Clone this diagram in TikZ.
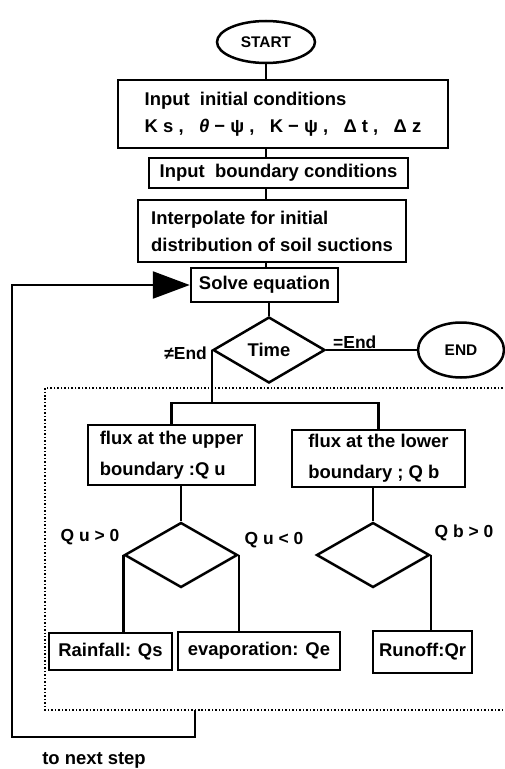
\documentclass[tikz,border=0pt]{standalone}
\usepackage{fontspec}
\setmainfont{Liberation Sans}
\usetikzlibrary{shapes, arrows.meta, positioning}

\begin{document}
\begin{tikzpicture}[x=1bp, y=-1bp,
  procbox/.style={draw, line width=2.5bp, inner xsep=6bp, inner ysep=2bp, font=\bfseries\fontsize{18.5}{27}\selectfont},
  termnode/.style={draw, ellipse, line width=2.5bp, inner sep=0pt, font=\bfseries\fontsize{15.5}{18}\selectfont},
  decision/.style={draw, diamond, line width=2.5bp, inner sep=0pt, minimum width=113bp, minimum height=65bp, font=\bfseries\fontsize{18.5}{21}\selectfont},
  lbl/.style={inner sep=1bp, font=\bfseries\fontsize{17.5}{20}\selectfont},
  link/.style={line width=2.5bp}
]
  \useasboundingbox (0,0) rectangle (505,769);

  \node[termnode, minimum width=98bp, minimum height=42bp] (start) at (266,42) {START};
  \node[procbox, minimum width=330bp, minimum height=68bp, align=left] (init) at (283,114) {Input\ \ initial conditions\\K s ,\ \ \ {\itshape θ} − ψ ,\ \ \ K − ψ ,\ \ \ Δ t ,\ \ \ Δ z};
  \node[procbox, minimum width=259bp, minimum height=30bp] (bound) at (278.5,173) {Input\ \ boundary conditions};
  \node[procbox, minimum width=268bp, minimum height=62bp, align=left] (interp) at (272,231) {Interpolate for initial\\distribution of soil suctions};
  \node[procbox, minimum width=147bp, minimum height=34bp] (solve) at (264.5,285) {Solve equation};
  \node[decision, minimum width=112bp, minimum height=66bp] (time) at (269,350) {Time};
  \node[termnode, minimum width=86bp, minimum height=55bp] (finish) at (461,350) {END};
  \node[lbl, anchor=east] (neqend) at (208,353) {≠End};
  \node[lbl, anchor=south west, inner sep=0pt] (eqend) at (333,349) {=End};

  \node[procbox, minimum width=167bp, minimum height=60bp, align=left, font=\bfseries\fontsize{18.5}{31}\selectfont] (fluxu) at (171.5,455) {flux at the upper\\boundary :Q u};
  \node[procbox, minimum width=173bp, minimum height=57bp, align=left, font=\bfseries\fontsize{18.5}{31}\selectfont] (fluxb) at (378.5,458.5) {flux at the lower\\boundary ; Q b};
  \node[decision] (du) at (181,555) {};
  \node[decision] (db) at (373,555) {};
  \node[lbl] (qupos) at (90,537) {Q u > 0};
  \node[lbl] (quneg) at (274,540) {Q u < 0};
  \node[lbl] (qbpos) at (464,533) {Q b > 0};
  \node[procbox, minimum width=123bp, minimum height=37bp] (rain) at (110.5,651.5) {Rainfall: Qs};
  \node[procbox, minimum width=162bp, minimum height=38bp, inner xsep=4bp] (evap) at (259,651) {evaporation: Qe};
  \node[procbox, minimum width=99bp, minimum height=42bp, inner xsep=3bp] (runoff) at (422.5,652) {Runoff:Qr};

  \draw[dotted, line width=1.5bp] (506,388) -- (45,388) -- (45,710) -- (506,710);
  \coordinate (loopout) at (195,710);
  \coordinate (back) at (12,737);
  \coordinate (split) at (time.west |- 0,403);
  \node[lbl, font=\bfseries\fontsize{18.5}{20}\selectfont] (nextstep) at (94,760) {to next step};

  \draw[link] (start) -- (start |- init.north);
  \draw[link] (init.south -| start) -- (bound.north -| start);
  \draw[link] (bound.south -| start) -- (interp.north -| start);
  \draw[link] (interp.south -| start) -- (solve.north -| start);
  \draw[link] (solve.south -| time) -- (time.north);
  \draw[link] (time.east) -- (finish.west);
  \draw[link] (time.west) -- (split);
  \draw[link] (fluxu.north) |- (split) -| (fluxb.north);
  \draw[link] (fluxu.south -| du.north) -- (du.north);
  \draw[link] (fluxb.south -| db.north) -- (db.north);
  \draw[link] (du.west) -- (du.west |- rain.north);
  \draw[link] (du.east) -- (du.east |- evap.north);
  \draw[link] (db.east) -- (db.east |- runoff.north);
  \draw[link, -{Triangle[length=37bp, width=27bp]}] (loopout) |- (back) |- (solve.west);
\end{tikzpicture}
\end{document}
